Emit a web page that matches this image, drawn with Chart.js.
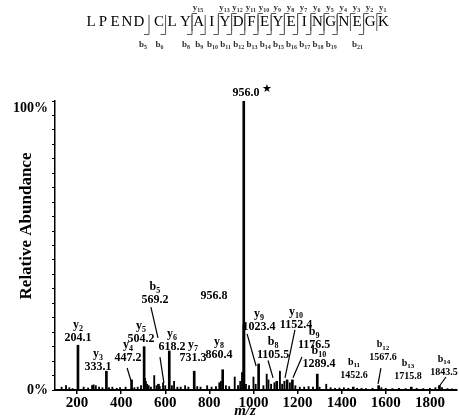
<!DOCTYPE html>
<html>
<head>
<meta charset="utf-8">
<script src="https://cdn.jsdelivr.net/npm/chart.js@4.4.0/dist/chart.umd.min.js"></script>
<style>
  html, body { margin: 0; padding: 0; background: #fff; }
</style>
</head>
<body>
<canvas id="spectrumChart" width="459" height="419"></canvas>
<script>
// labelled fragment ions (m/z, relative abundance %)
var ionMz = [204.1, 333.1, 447.2, 504.2, 569.2, 618.2, 731.3, 860.4, 956.0, 956.8, 1023.4, 1105.5, 1152.4, 1176.5, 1289.4, 1452.6, 1567.6, 1715.8, 1843.5];
var ionIntensity = [15.5, 6.5, 3.5, 15, 2, 13.5, 6.5, 7, 100, 22.5, 9, 3, 3.5, 3.5, 5.5, 1, 1.5, 1, 1.5];
var ionNames = ['y2', 'y3', 'y4', 'y5', 'b5', 'y6', 'y7', 'y8', '', '', 'y9', 'b8', 'y10', 'b9', 'b10', 'b11', 'b12', 'b13', 'b14'];
var ionTexts = ['204.1', '333.1', '447.2', '504.2', '569.2', '618.2', '731.3', '860.4', '956.0', '956.8', '1023.4', '1105.5', '1152.4', '1176.5', '1289.4', '1452.6', '1567.6', '1715.8', '1843.5'];

// unlabelled peaks
var otherMz = [130, 150, 165, 180, 230, 250, 268, 275, 285, 300, 315, 345, 360, 380, 395, 420, 460, 475, 490, 508, 512, 518, 525, 535, 550, 560, 575, 590, 600, 630, 640, 655, 670, 690, 705, 745, 760, 790, 810, 830, 845, 852, 875, 890, 915, 930, 940, 948, 966, 980, 1000, 1010, 1045, 1060, 1068, 1080, 1095, 1120, 1130, 1140, 1165, 1190, 1210, 1230, 1250, 1270, 1300, 1330, 1350, 1370, 1390, 1410, 1430, 1470, 1490, 1510, 1540, 1580, 1600, 1630, 1660, 1690, 1740, 1770, 1800, 1825, 1855, 1880, 1900];
var otherIntensity = [1, 1.5, 0.8, 0.5, 1, 0.7, 1.5, 1.8, 1.5, 1, 0.8, 0.8, 1, 0.6, 0.8, 1, 0.8, 1, 1.5, 4, 3, 2, 1.5, 1, 5, 1.5, 1.2, 2.5, 1.5, 1.5, 3, 1, 1, 1.5, 1, 1.2, 1, 1.5, 1, 1.2, 2.5, 3, 1.5, 1.2, 4.5, 1.5, 3, 6, 2, 1.5, 4.5, 2, 1.5, 5.5, 3.5, 2, 2.5, 6.5, 2, 3, 2.5, 1.5, 1, 1, 1.2, 1, 1, 2, 0.8, 0.6, 0.7, 0.8, 0.6, 0.6, 0.6, 0.5, 0.6, 0.8, 0.6, 0.5, 0.6, 0.5, 0.6, 0.5, 0.6, 0.8, 0.8, 0.5, 0.4];

var xTicks = [200, 400, 600, 800, 1000, 1200, 1400, 1600, 1800];
var yTicks = [0, 5, 10, 15, 20, 25, 30, 35, 40, 45, 50, 55, 60, 65, 70, 75, 80, 85, 90, 95, 97.5, 100];

// peptide sequence and observed cleavages
var sequence = 'LPENDCLYAIYDFEYEINGNEGK'.split('');
var yIons = [15, 13, 12, 11, 10, 9, 8, 7, 6, 5, 4, 3, 2, 1];
var bIons = [5, 6, 8, 9, 10, 11, 12, 13, 14, 15, 16, 17, 18, 19, 21];

// where each label sits (m/z, %) and its font size
var labelPos = [[204, 18], [295, 8], [431, 11.1], [490, 17.6], [553, 31.1], [631, 14.9], [726, 11.1], [844, 12.1],
    [966, 102.8], [821, 32.5], [1025, 21.8], [1089, 12.1], [1193, 22.5], [1275, 15.6], [1297, 9], [1456, 5.2], [1587, 11.1], [1701, 4.8], [1864, 6.2]];
var labelSize = [12, 12, 12, 12, 12, 12, 12, 12, 12, 12, 12, 12, 12, 12, 12, 10, 10, 10, 10];

// leader lines [mz1, %1, mz2, %2]
var leaders = [[427, 7.6, 445, 3.1], [535, 28.7, 567, 18], [576, 11.4, 594, 2.4], [971, 19.4, 1012, 8.3],
    [1066, 10.2, 1089, 4.2], [1188, 20.8, 1143, 4.2], [1220, 11.4, 1179, 4.2], [1578, 7.6, 1565, 2.1], [1837, 0.7, 1873, 4.5]];

var serif = "'Liberation Serif', 'Times New Roman', serif";

function toPoints(xs, ys) {
    var pts = [];
    for (var i = 0; i < xs.length; i++) {
        pts.push({ x: xs[i], y: ys[i] });
    }
    return pts;
}

function drawIonName(ctx, name, cx, cy, size) {
    var letter = name.charAt(0);
    var sub = name.substring(1);
    ctx.font = 'bold ' + size + 'px ' + serif;
    var w1 = ctx.measureText(letter).width;
    ctx.font = 'bold ' + Math.round(size * 0.7) + 'px ' + serif;
    var w2 = ctx.measureText(sub).width;
    var left = cx - (w1 + w2) / 2;
    ctx.textAlign = 'left';
    ctx.font = 'bold ' + size + 'px ' + serif;
    ctx.fillText(letter, left, cy);
    ctx.font = 'bold ' + Math.round(size * 0.7) + 'px ' + serif;
    ctx.fillText(sub, left + w1, cy + size * 0.3);
}

function residueX(i) {
    if (i < 5) return 91 + 12 * i;
    return 159 + 13.2 * (i - 5);
}

var annotations = {
    id: 'annotations',
    afterDraw: function (chart) {
        var ctx = chart.ctx;
        var xs = chart.scales.x;
        var ys = chart.scales.y;
        ctx.save();
        ctx.fillStyle = '#000';
        ctx.strokeStyle = '#000';
        ctx.textBaseline = 'middle';

        // peak labels
        for (var i = 0; i < ionTexts.length; i++) {
            var px = xs.getPixelForValue(labelPos[i][0]);
            var py = ys.getPixelForValue(labelPos[i][1]);
            var size = labelSize[i];
            ctx.font = 'bold ' + size + 'px ' + serif;
            ctx.textAlign = 'center';
            ctx.fillText(ionTexts[i], px, py);
            if (ionNames[i] != '') {
                drawIonName(ctx, ionNames[i], px, py - 13, size);
            }
        }
        // star on base peak
        var sx = xs.getPixelForValue(labelPos[8][0]);
        var sy = ys.getPixelForValue(labelPos[8][1]);
        ctx.font = 'bold 11px DejaVu Sans';
        ctx.textAlign = 'left';
        ctx.fillText('\u2605', sx + 16, sy - 4);

        // leader lines
        ctx.lineWidth = 1.2;
        for (var j = 0; j < leaders.length; j++) {
            ctx.beginPath();
            ctx.moveTo(xs.getPixelForValue(leaders[j][0]), ys.getPixelForValue(leaders[j][1]));
            ctx.lineTo(xs.getPixelForValue(leaders[j][2]), ys.getPixelForValue(leaders[j][3]));
            ctx.stroke();
        }

        // axis titles
        ctx.font = 'bold 17px ' + serif;
        ctx.textAlign = 'center';
        ctx.save();
        ctx.translate(27, 226);
        ctx.rotate(-Math.PI / 2);
        ctx.fillText('Relative Abundance', 0, 0);
        ctx.restore();
        ctx.font = 'italic bold 15px ' + serif;
        ctx.fillText('m/z', 245, 411);

        // sequence with cleavage brackets
        ctx.font = '15px ' + serif;
        ctx.textAlign = 'center';
        for (var k = 0; k < sequence.length; k++) {
            ctx.fillText(sequence[k], residueX(k), 22);
        }
        ctx.strokeStyle = '#555';
        ctx.lineWidth = 1;
        ctx.fillStyle = '#333';
        for (var a = 0; a < yIons.length; a++) {
            var n = sequence.length - yIons[a];
            var cx = (residueX(n - 1) + residueX(n)) / 2;
            ctx.beginPath();
            ctx.moveTo(cx + 5, 13.5);
            ctx.lineTo(cx, 13.5);
            ctx.lineTo(cx, 31);
            ctx.stroke();
            drawIonName(ctx, 'y' + yIons[a], cx + 6, 8, 9);
        }
        for (var b = 0; b < bIons.length; b++) {
            var cb = (residueX(bIons[b] - 1) + residueX(bIons[b])) / 2;
            ctx.beginPath();
            ctx.moveTo(cb, 15);
            ctx.lineTo(cb, 34.5);
            ctx.lineTo(cb - 5, 34.5);
            ctx.stroke();
            drawIonName(ctx, 'b' + bIons[b], cb - 6, 45, 9);
        }
        ctx.restore();
    }
};

var spectrumChart = new Chart('spectrumChart', {
    type: 'bar',
    data: {
        datasets: [{
            label: 'Labelled ions',
            data: toPoints(ionMz, ionIntensity),
            backgroundColor: '#000',
            barThickness: 2,
            grouped: false
        }, {
            label: 'Other peaks',
            data: toPoints(otherMz, otherIntensity),
            backgroundColor: '#000',
            barThickness: 1.2,
            grouped: false
        }]
    },
    options: {
        responsive: false,
        animation: false,
        layout: {
            padding: { top: 101, right: 2, left: 0, bottom: 0 }
        },
        plugins: {
            legend: { display: false },
            tooltip: { enabled: false }
        },
        scales: {
            x: {
                type: 'linear',
                offset: false,
                min: 100,
                max: 1923,
                afterBuildTicks: function (scale) {
                    scale.ticks = xTicks.map(function (v) { return { value: v }; });
                },
                afterFit: function (scale) {
                    scale.height = 29;
                },
                border: { display: true, color: '#000', width: 2 },
                grid: { offset: false, drawOnChartArea: false, drawTicks: true, tickLength: 4, color: '#000', lineWidth: 1.5 },
                ticks: {
                    color: '#000',
                    padding: 0,
                    maxRotation: 0,
                    font: { family: serif, size: 15, weight: 'bold' },
                    callback: function (value) {
                        return String(value);
                    }
                }
            },
            y: {
                min: 0,
                max: 100,
                afterBuildTicks: function (scale) {
                    scale.ticks = yTicks.map(function (v) { return { value: v }; });
                },
                afterFit: function (scale) {
                    scale.width = 55;
                },
                border: { display: true, color: '#000', width: 1.5 },
                grid: {
                    drawOnChartArea: false,
                    drawTicks: true,
                    tickLength: 3,
                    tickColor: function (context) {
                        return context.tick && context.tick.value == 97.5 ? 'rgba(0,0,0,0)' : '#000';
                    }
                },
                ticks: {
                    color: '#000',
                    padding: 4,
                    autoSkip: false,
                    font: { family: serif, size: 14, weight: 'bold' },
                    callback: function (value) {
                        if (value == 0) return '0%';
                        if (value == 97.5) return '100%';
                        return '';
                    }
                }
            }
        }
    },
    plugins: [annotations]
});
</script>
</body>
</html>
